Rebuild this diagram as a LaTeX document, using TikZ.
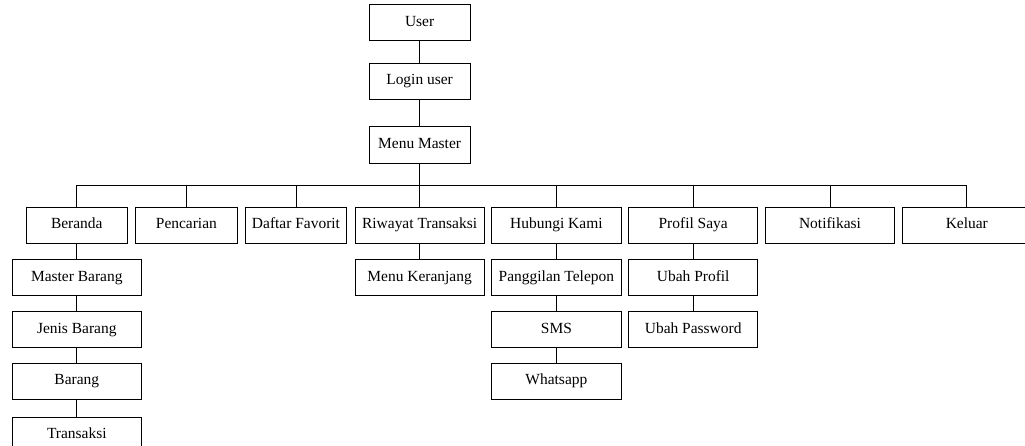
\documentclass[tikz,border=0pt]{standalone}
\usepackage{fontspec}
\setmainfont{Liberation Serif}
\usetikzlibrary{positioning}

\begin{document}
\begin{tikzpicture}[node distance=11pt and 5.6pt, line width=0.6pt, every node/.style={draw, font=\fontsize{11.6pt}{13pt}\selectfont, minimum width=76pt, minimum height=27.2pt, text height=8pt, text depth=2.5pt, inner sep=2pt}, wide/.style={minimum width=97pt}]
\useasboundingbox (0,0) rectangle (768.75pt,-334.5pt);
\clip (0,0) rectangle (768.75pt,-334.5pt);
\node[anchor=north west] (ber) at (19.3pt,-155pt) {Beranda};
\node (pen) [right=of ber] {Pencarian};
\node (fav) [right=of pen] {Daftar Favorit};
\node[wide] (riw) [right=of fav] {Riwayat Transaksi};
\node[wide] (hub) [right=5pt of riw] {Hubungi Kami};
\node[wide] (prof) [right=5pt of hub] {Profil Saya};
\node[wide] (notif) [right=5pt of prof] {Notifikasi};
\node[wide] (kel) [right=5pt of notif] {Keluar};
\node (mm) [above=32.5pt of riw] {Menu Master};
\node (lgn) [above=20pt of mm] {Login user};
\node (usr) [above=16pt of lgn] {User};
\node[wide] (mb) [below=11.5pt of ber] {Master Barang};
\node[wide] (jb) [below=of mb] {Jenis Barang};
\node[wide] (brg) [below=of jb] {Barang};
\node[wide] (trx) [below=12.75pt of brg] {Transaksi};
\node[wide] (ker) [below=11.5pt of riw] {Menu Keranjang};
\node[wide] (tel) [below=11.5pt of hub] {Panggilan Telepon};
\node[wide] (sms) [below=of tel] {SMS};
\node[wide] (wa) [below=of sms] {Whatsapp};
\node[wide] (up) [below=11.5pt of prof] {Ubah Profil};
\node[wide] (upw) [below=of up] {Ubah Password};
\draw (usr) -- (lgn); \draw (lgn) -- (mm); \draw (mm) -- (riw);
\draw (mm.south) -- ++(0,-16.8pt) -| (ber.north); \draw (mm.south) -- ++(0,-16.8pt) -| (pen.north);
\draw (mm.south) -- ++(0,-16.8pt) -| (fav.north); \draw (mm.south) -- ++(0,-16.8pt) -| (hub.north);
\draw (mm.south) -- ++(0,-16.8pt) -| (prof.north); \draw (mm.south) -- ++(0,-16.8pt) -| (notif.north);
\draw (mm.south) -- ++(0,-16.8pt) -| (kel.north);
\draw (ber) -- (mb); \draw (mb) -- (jb); \draw (jb) -- (brg); \draw (brg) -- (trx);
\draw (riw) -- (ker);
\draw (hub) -- (tel); \draw (tel) -- (sms); \draw (sms) -- (wa);
\draw (prof) -- (up); \draw (up) -- (upw);
\end{tikzpicture}
\end{document}
